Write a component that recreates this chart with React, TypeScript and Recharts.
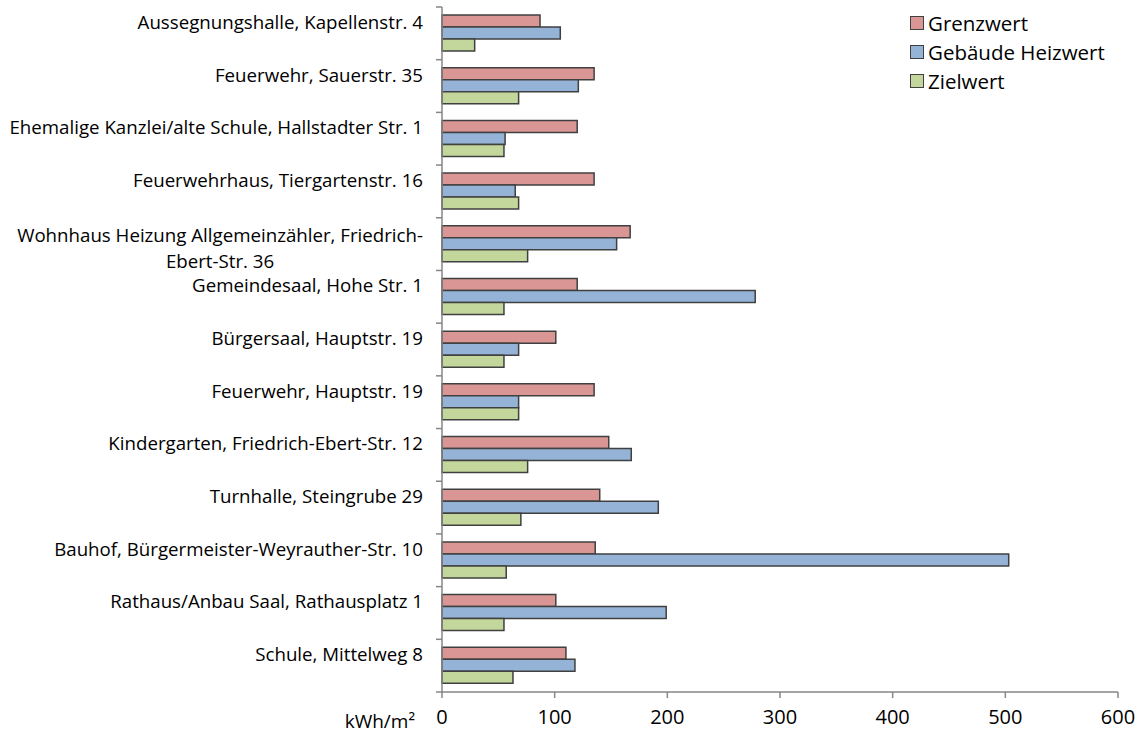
import { BarChart, Bar, XAxis, YAxis } from 'recharts';

// ── data ──────────────────────────────────────────────────────────────────────
const CATEGORIES = [
  'Aussegnungshalle, Kapellenstr. 4',
  'Feuerwehr, Sauerstr. 35',
  'Ehemalige Kanzlei/alte Schule, Hallstadter Str. 1',
  'Feuerwehrhaus, Tiergartenstr. 16',
  'Wohnhaus Heizung Allgemeinzähler, Friedrich-Ebert-Str. 36',
  'Gemeindesaal, Hohe Str. 1',
  'Bürgersaal, Hauptstr. 19',
  'Feuerwehr, Hauptstr. 19',
  'Kindergarten, Friedrich-Ebert-Str. 12',
  'Turnhalle, Steingrube 29',
  'Bauhof, Bürgermeister-Weyrauther-Str. 10',
  'Rathaus/Anbau Saal, Rathausplatz 1',
  'Schule, Mittelweg 8',
];
const GRENZWERT = [87, 135, 120, 135, 167, 120, 101, 135, 148, 140, 136, 101, 110];
const HEIZWERT = [105, 121, 56, 65, 155, 278, 68, 68, 168, 192, 503, 199, 118];
const ZIELWERT = [29, 68, 55, 68, 76, 55, 55, 68, 76, 70, 57, 55, 63];
const X_TICKS = [0, 100, 200, 300, 400, 500, 600];

const SERIES = [
  { key: 'grenz', name: 'Grenzwert', color: '#D99694' },
  { key: 'heiz', name: 'Gebäude Heizwert', color: '#95B3D7' },
  { key: 'ziel', name: 'Zielwert', color: '#C3D69B' },
];

const chartData = CATEGORIES.map((name, i) => ({
  name,
  grenz: GRENZWERT[i],
  heiz: HEIZWERT[i],
  ziel: ZIELWERT[i],
}));

// ── layout ────────────────────────────────────────────────────────────────────
const W = 1141;
const H = 733;
const TOP = 7;
const AXIS_H = 41;
const Y_AXIS_W = 442;
const BAND = (H - TOP - AXIS_H) / CATEGORIES.length;
const AXIS_COLOR = '#868686';
const BAR_STROKE = '#404040';
const FONT = "'Open Sans', sans-serif";

function wrap(label: string, max = 52) {
  if (label.length <= max) return [label];
  const cut = Math.max(label.lastIndexOf('-', 45), label.lastIndexOf(' ', 45));
  return [label.slice(0, cut + 1).trim(), label.slice(cut + 1).trim()];
}

function CategoryTick({ y, payload, index }: any) {
  const lines = wrap(String(payload.value));
  const center = lines.length > 1 ? y + 4 : y - 11.5;
  const boxH = 60;
  return (
    <g>
      <line x1={Y_AXIS_W - 6} x2={Y_AXIS_W} y1={y - BAND / 2} y2={y - BAND / 2} stroke={AXIS_COLOR} strokeWidth={1.5} />
      {index === CATEGORIES.length - 1 && (
        <line x1={Y_AXIS_W - 6} x2={Y_AXIS_W} y1={y + BAND / 2} y2={y + BAND / 2} stroke={AXIS_COLOR} strokeWidth={1.5} />
      )}
      <foreignObject x={0} y={center - boxH / 2} width={423} height={boxH}>
        <div style={{ width: 423, height: boxH, display: 'flex', justifyContent: 'flex-end', alignItems: 'center' }}>
          <div style={{ textAlign: 'center', fontFamily: FONT, fontSize: 18.7, lineHeight: '26px', color: '#000', whiteSpace: 'nowrap' }}>
            {lines.map((l, i) => <div key={i}>{l}</div>)}
          </div>
        </div>
      </foreignObject>
    </g>
  );
}

export default function App() {
  return (
    <div style={{ width: W, height: H, background: '#fff', position: 'relative' }}>
      <style>{'body{margin:0}'}</style>
      <BarChart
        width={W}
        height={H}
        data={chartData}
        layout="vertical"
        margin={{ top: TOP, right: W - 1118, bottom: 0, left: 0 }}
        barSize={12}
        barGap={0}
      >
        <XAxis
          type="number"
          domain={[0, 600]}
          ticks={X_TICKS}
          height={AXIS_H}
          interval={0}
          stroke={AXIS_COLOR}
          strokeWidth={1.5}
          tickSize={6}
          tick={{ fontFamily: FONT, fontSize: 20, fill: '#000' }}
          tickMargin={12}
          label={{ value: 'kWh/m²', position: 'left', offset: 27, dy: 9, style: { fontFamily: FONT, fontSize: 19, fill: '#000' } }}
        />
        <YAxis
          type="category"
          dataKey="name"
          width={Y_AXIS_W}
          interval={0}
          tickLine={false}
          stroke={AXIS_COLOR}
          strokeWidth={1.5}
          tick={<CategoryTick />}
        />
        {SERIES.map((s) => (
          <Bar key={s.key} dataKey={s.key} name={s.name} fill={s.color} stroke={BAR_STROKE} strokeWidth={1.5} isAnimationActive={false} />
        ))}
      </BarChart>
      <div style={{ position: 'absolute', top: 8, left: 910, fontFamily: FONT, fontSize: 20.5, color: '#000' }}>
        {SERIES.map((s) => (
          <div key={s.key} style={{ display: 'flex', alignItems: 'center', height: 29 }}>
            <span style={{ width: 12, height: 12, background: s.color, border: `1.5px solid ${BAR_STROKE}`, marginRight: 4, display: 'inline-block' }} />
            {s.name}
          </div>
        ))}
      </div>
    </div>
  );
}
